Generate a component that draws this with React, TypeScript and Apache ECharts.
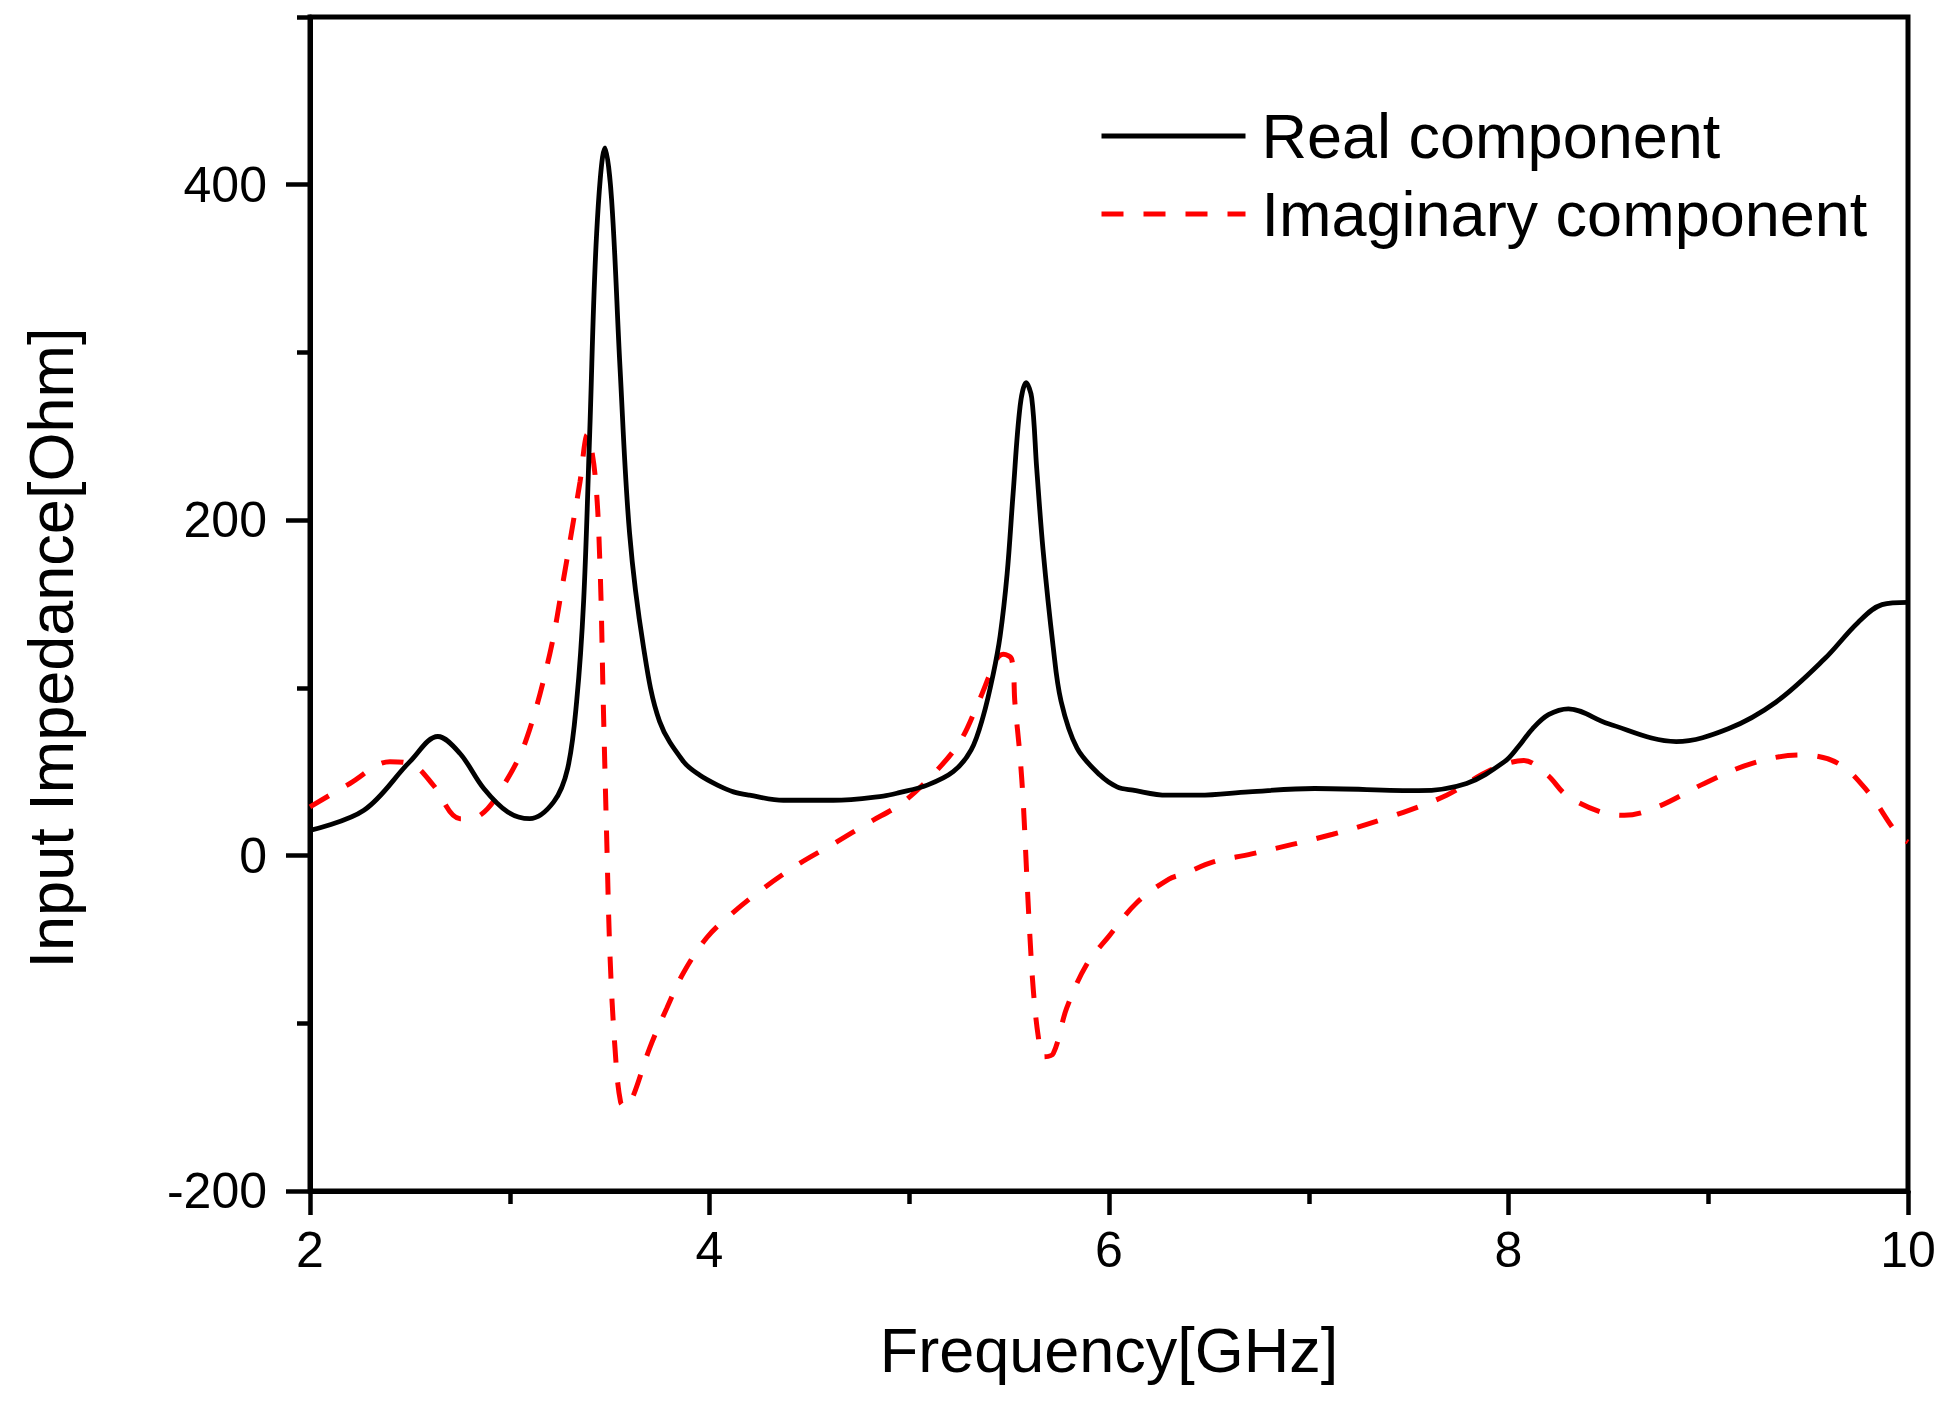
import React, { useEffect, useRef } from "react";
import * as echarts from "echarts";

const FONT = "'Liberation Sans', Arial, Helvetica, sans-serif";

// Real component (GHz, Ohm)
const realFreq = [
  2.0, 2.27, 2.5, 2.64, 2.75, 2.87, 2.99, 3.1, 3.22, 3.29, 3.335, 3.37, 3.4, 3.435, 3.477, 3.51, 3.552, 3.6,
  3.67, 3.75, 3.87, 3.95, 4.04, 4.12, 4.2, 4.37, 4.62, 4.87, 4.95, 5.09, 5.22, 5.31, 5.37, 5.42, 5.455, 5.49,
  5.52, 5.555, 5.585, 5.613, 5.638, 5.67, 5.72, 5.76, 5.84, 5.955, 6.04, 6.12, 6.29, 6.45, 6.7, 7.03, 7.55,
  7.79, 7.98, 8.05, 8.12, 8.2, 8.3, 8.5, 8.84, 9.1, 9.34, 9.58, 9.75, 9.87, 10.0,
];
const realValues = [
  15, 27, 56, 71, 61, 40, 26, 22, 32, 52, 92, 152, 251, 371, 422, 391, 291, 192,
  124, 80, 56, 48, 42, 38, 36, 33, 33, 35.5, 37.5, 42, 50, 63, 83, 108, 131, 168,
  216, 268, 282, 273, 231, 182, 125, 92, 64, 48, 41, 39, 36, 36, 38, 40, 38.7,
  43, 56, 65, 75.6, 84, 87.5, 78.6, 68, 75.6, 91.6, 117, 139, 149.6, 151,
];

// Imaginary component (GHz, Ohm)
const imagFreq = [
  2.0, 2.2, 2.4, 2.517, 2.617, 2.751, 2.851, 2.985, 3.085, 3.2, 3.268, 3.318, 3.352, 3.388, 3.427, 3.452,
  3.468, 3.485, 3.502, 3.527, 3.555, 3.585, 3.619, 3.7, 3.786, 3.869, 3.986, 4.103, 4.269, 4.436, 4.62,
  4.803, 4.96, 5.12, 5.254, 5.345, 5.438, 5.471, 5.513, 5.529, 5.554, 5.571, 5.588, 5.604, 5.621, 5.646,
  5.671, 5.721, 5.788, 5.888, 6.0, 6.14, 6.3, 6.372, 6.522, 6.714, 7.12, 7.43, 7.69, 7.91, 8.076, 8.195,
  8.29, 8.46, 8.58, 8.745, 8.98, 9.22, 9.46, 9.65, 9.8, 9.94, 10.0,
];
const imagValues = [
  29, 43, 56, 54, 42, 22, 24, 45, 70, 120, 164, 199, 223, 251, 227, 172,
  92, 12, -60, -115, -147, -150, -143, -115, -91, -70, -49, -35.5, -19.6, -5.8, 7,
  20, 31, 48.5, 68, 91, 117, 120, 117, 91, 60, 31, -11, -48, -80, -108,
  -120, -118, -91, -65, -48, -28, -14, -11, -3.8, 1, 12.7, 24, 36, 51, 56.7, 48,
  36, 26, 24, 29, 43, 55, 60, 55, 38, 14, 8,
];

const seriesNames = ["Real component", "Imaginary component"];
const yLabelValues = [-200, 0, 200, 400];
const yMinorTickValues = [-100, 100, 300, 500];

export default function App() {
  const ref = useRef<HTMLDivElement>(null);

  useEffect(() => {
    if (!ref.current) return;
    const chart = echarts.init(ref.current, null, { renderer: "svg" });
    const realData = realFreq.map((f, i) => [f, realValues[i]]);
    const imagData = imagFreq.map((f, i) => [f, imagValues[i]]);

    chart.setOption({
      animation: false,
      backgroundColor: "#fff",
      grid: {
        left: 310,
        right: 51,
        top: 17,
        bottom: 213,
        show: true,
        borderColor: "#000",
        borderWidth: 5,
        backgroundColor: "transparent",
      },
      legend: {
        orient: "vertical",
        left: 1094,
        top: 99,
        itemWidth: 144,
        itemHeight: 14,
        itemGap: 14,
        data: seriesNames,
        itemStyle: { color: "transparent", borderColor: "transparent", borderWidth: 0 },
        lineStyle: { width: 5 },
        textStyle: {
          fontSize: 63,
          lineHeight: 64,
          color: "#000",
          fontFamily: FONT,
          padding: [0, 0, 0, 11],
        },
      },
      xAxis: {
        type: "value",
        min: 2,
        max: 10,
        interval: 2,
        name: "Frequency[GHz]",
        nameLocation: "middle",
        nameGap: 127,
        nameTextStyle: { fontSize: 63, color: "#000", fontFamily: FONT },
        axisLine: { show: true, onZero: false, lineStyle: { color: "#000", width: 5 } },
        axisTick: { show: true, inside: false, length: 24, lineStyle: { color: "#000", width: 4.5 } },
        minorTick: { show: true, splitNumber: 2, length: 13, lineStyle: { color: "#000", width: 4.5 } },
        axisLabel: { fontSize: 50, margin: 34, color: "#000", fontFamily: FONT },
        splitLine: { show: false },
        minorSplitLine: { show: false },
      },
      yAxis: [
        {
          type: "value",
          min: -200,
          max: 500,
          interval: 100,
          position: "left",
          name: "Input Impedance[Ohm]",
          nameLocation: "middle",
          nameRotate: 90,
          nameGap: 228,
          nameTextStyle: {
            fontSize: 63,
            color: "#000",
            fontFamily: FONT,
            padding: [0, 88, 0, 0],
          },
          axisLine: { show: true, onZero: false, lineStyle: { color: "#000", width: 5 } },
          axisTick: {
            show: true,
            inside: false,
            length: 24,
            customValues: yLabelValues,
            lineStyle: { color: "#000", width: 4.5 },
          },
          axisLabel: {
            fontSize: 50,
            margin: 43,
            color: "#000",
            fontFamily: FONT,
            customValues: yLabelValues,
          },
          splitLine: { show: false },
        },
        {
          type: "value",
          min: -200,
          max: 500,
          interval: 100,
          position: "left",
          axisLine: { show: false, onZero: false },
          axisTick: {
            show: true,
            inside: false,
            length: 13,
            customValues: yMinorTickValues,
            lineStyle: { color: "#000", width: 4.5 },
          },
          axisLabel: { show: false },
          splitLine: { show: false },
        },
      ],
      series: [
        {
          name: seriesNames[0],
          type: "line",
          yAxisIndex: 0,
          data: realData,
          smooth: 0.35,
          symbol: "none",
          showSymbol: false,
          lineStyle: { color: "#000", width: 4.8, type: "solid" },
          itemStyle: { color: "#000" },
          z: 3,
        },
        {
          name: seriesNames[1],
          type: "line",
          yAxisIndex: 0,
          data: imagData,
          smooth: 0.35,
          symbol: "none",
          showSymbol: false,
          lineStyle: { color: "#ff0000", width: 5, type: [22, 20] },
          itemStyle: { color: "#ff0000" },
          z: 2,
        },
      ],
    });

    return () => {
      chart.dispose();
    };
  }, []);

  return (
    <div
      ref={ref}
      style={{
        position: "fixed",
        left: 0,
        top: 0,
        width: "1959px",
        height: "1404px",
        background: "#fff",
      }}
    />
  );
}
